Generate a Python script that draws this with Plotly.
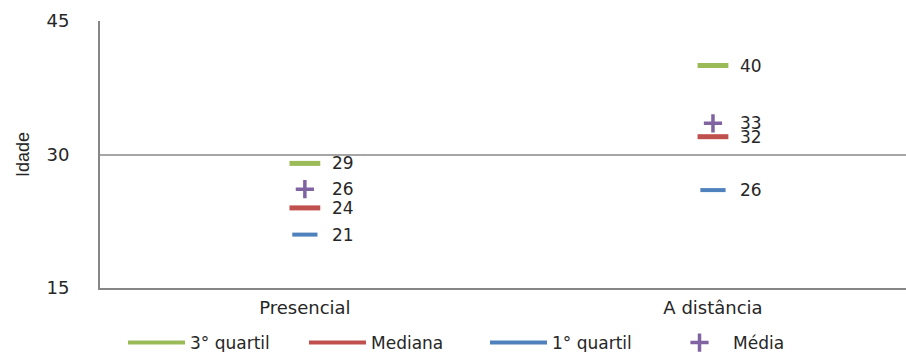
import plotly.graph_objects as go

categories = ["Presencial", "A distância"]
q3 = [29, 40]
mediana = [24, 32]
q1 = [21, 26]
media = [26.1, 33.5]
y_ticks = [15, 30, 45]

GREEN = "#9BBB59"
RED = "#C0504D"
BLUE = "#4F81BD"
PURPLE = "#8064A2"
FONT = "DejaVu Sans"

fig = go.Figure()

series = [
    ("3° quartil", q3, GREEN, 22, 5, "line-ew"),
    ("Mediana", mediana, RED, 22, 5, "line-ew"),
    ("1° quartil", q1, BLUE, 18, 4, "line-ew"),
]
for name, vals, col, sz, lw, sym in series:
    fig.add_trace(go.Scatter(
        x=categories, y=vals, mode="markers", name=name, showlegend=False,
        marker=dict(symbol=sym, size=sz, color=col, line=dict(color=col, width=lw)),
        hoverinfo="skip"))
    fig.add_trace(go.Scatter(
        x=[None], y=[None], mode="lines", name=name,
        line=dict(color=col, width=4)))

fig.add_trace(go.Scatter(
    x=categories, y=media, mode="markers", name="Média",
    marker=dict(symbol="cross-thin", size=13, color=PURPLE,
                line=dict(color=PURPLE, width=3.5))))

for vals in (q3, mediana, q1, media):
    for c, v in zip(categories, vals):
        fig.add_annotation(x=c, y=v, text=str(int(v)), showarrow=False,
                           xanchor="left", yanchor="middle", xshift=25,
                           font=dict(family=FONT, size=17, color="#262626"))

fig.update_layout(
    width=906, height=352,
    margin=dict(l=100, r=0, t=21, b=64, autoexpand=False),
    plot_bgcolor="white", paper_bgcolor="white",
    font=dict(family=FONT, size=17, color="#262626"),
    showlegend=True,
    legend=dict(orientation="h", x=123 / 906, xref="container", xanchor="left",
                y=9 / 352, yref="container", yanchor="middle",
                font=dict(family=FONT, size=17, color="#262626"),
                entrywidth=109, entrywidthmode="pixels", itemwidth=57,
                bgcolor="rgba(0,0,0,0)"),
)
fig.update_xaxes(
    type="category", range=[-0.502, 1.473],
    showline=True, linecolor="#868686", linewidth=2,
    showgrid=False, ticks="", tickfont=dict(family=FONT, size=18),
    ticklabelstandoff=2)
fig.update_yaxes(
    range=[15, 45], tickvals=y_ticks,
    showline=True, linecolor="#868686", linewidth=2,
    showgrid=True, gridcolor="#a6a6a6", gridwidth=1.5,
    zeroline=False, ticks="", ticklabelstandoff=25,
    tickfont=dict(family=FONT, size=18),
    title=dict(text="Idade", standoff=12,
               font=dict(family="Liberation Sans Narrow, Liberation Sans", size=18)))

fig.write_html("out.html")
